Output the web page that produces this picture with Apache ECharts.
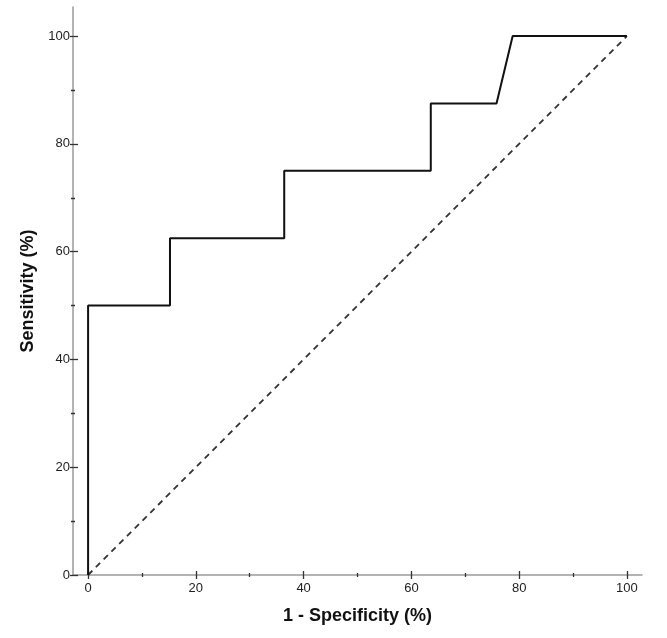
<!DOCTYPE html>
<html><head><meta charset="utf-8">
<script src="https://cdn.jsdelivr.net/npm/echarts@6/dist/echarts.min.js"></script>
<style>html,body{margin:0;padding:0;background:#fff}#c{width:667px;height:638px}</style>
</head><body><div id="c"></div>
<script>
var rocX = [0, 0, 15.2, 15.2, 36.4, 36.4, 63.6, 63.6, 75.8, 78.8, 100];
var rocY = [0, 50, 50, 62.5, 62.5, 75, 75, 87.5, 87.5, 100, 100];
var refX = [0, 100];
var refY = [0, 100];
var majorTicks = [0, 20, 40, 60, 80, 100];
var minorTicks = [10, 30, 50, 70, 90];

var FONT = '"Liberation Sans", Arial, sans-serif';
var xMin = -2.8, xMax = 102.8, yMin = 0, yMax = 105.4;

function mkAxis(kind, idx, opts) {
  var a = {
    type: 'value', min: kind === 'x' ? xMin : yMin, max: kind === 'x' ? xMax : yMax,
    position: kind === 'x' ? 'bottom' : 'left', offset: 0,
    axisLine: { show: idx === 0, onZero: false, lineStyle: { color: '#9a9a9a', width: 1.5 } },
    splitLine: { show: false },
    axisLabel: { show: false },
    axisTick: { show: true, customValues: opts.ticks, inside: opts.inside, length: opts.len, lineStyle: { color: '#333', width: 1.3 } }
  };
  if (idx === 0) {
    a.axisLabel = { show: true, customValues: majorTicks, color: '#222', fontSize: 13, fontFamily: FONT, margin: kind === 'x' ? 7 : 3 };
    a.name = kind === 'x' ? '1 - Specificity (%)' : 'Sensitivity (%)';
    a.nameLocation = 'middle';
    a.nameGap = kind === 'x' ? 32 : 32;
    a.nameTextStyle = { fontSize: 18, fontWeight: 'bold', color: '#111', fontFamily: FONT };
  }
  return a;
}

var xAxes = [
  mkAxis('x', 0, { ticks: majorTicks, inside: false, len: 4 }),
  mkAxis('x', 1, { ticks: majorTicks, inside: true, len: 4 }),
  mkAxis('x', 2, { ticks: minorTicks, inside: false, len: 2 }),
  mkAxis('x', 3, { ticks: minorTicks, inside: true, len: 2 })
];
var yAxes = [
  mkAxis('y', 0, { ticks: majorTicks, inside: false, len: 3 }),
  mkAxis('y', 1, { ticks: majorTicks, inside: true, len: 5 }),
  mkAxis('y', 2, { ticks: minorTicks, inside: false, len: 2 }),
  mkAxis('y', 3, { ticks: minorTicks, inside: true, len: 2 })
];

var chart = echarts.init(document.getElementById('c'), null, { renderer: 'canvas' });
chart.setOption({
  animation: false,
  backgroundColor: '#fff',
  grid: { left: 73, right: 25, top: 7, bottom: 63, containLabel: false },
  xAxis: xAxes,
  yAxis: yAxes,
  series: [
    {
      type: 'line', xAxisIndex: 0, yAxisIndex: 0, symbol: 'none',
      data: refX.map(function (v, i) { return [v, refY[i]]; }),
      lineStyle: { color: '#333', width: 1.8, type: [6, 5] }, z: 2
    },
    {
      type: 'line', xAxisIndex: 0, yAxisIndex: 0, symbol: 'none',
      data: rocX.map(function (v, i) { return [v, rocY[i]]; }),
      lineStyle: { color: '#111', width: 2 }, z: 3
    }
  ]
});
</script></body></html>
